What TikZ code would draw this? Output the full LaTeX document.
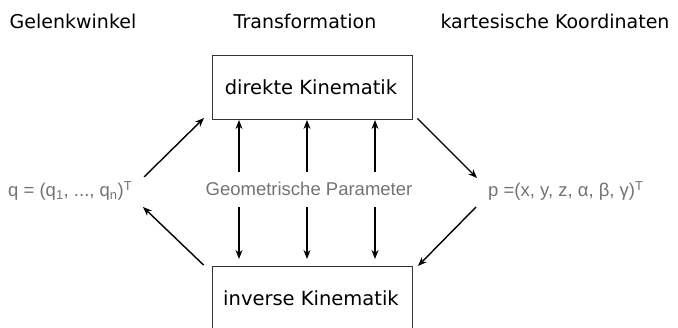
\documentclass[tikz,border=0pt]{standalone}
\usepackage{fontspec}
\setmainfont{DejaVu Sans}
\newfontfamily\grayfont{Liberation Sans}
\usetikzlibrary{arrows.meta}
\definecolor{txtgray}{rgb}{0.45,0.45,0.45}
\begin{document}
\begin{tikzpicture}[x=1pt,y=-1pt,
  box/.style={draw=black!80,line width=0.9pt,minimum width=200pt,minimum height=64pt,inner sep=0pt},
  boxtext/.style={font=\fontsize{19.5}{19.5}\selectfont,inner sep=0pt},
  arr/.style={line width=1.4pt,-{Stealth[length=9pt,width=7pt]}},
  head/.style={font=\fontsize{19}{19}\selectfont,inner sep=0pt},
  gtext/.style={font=\grayfont\fontsize{18.5}{18.5}\selectfont,text=txtgray,inner sep=0pt}]
\useasboundingbox (0,0) rectangle (678,328);
\clip (0,0) rectangle (678,328);
\node[head] (h1) at (73,21) {Gelenkwinkel};
\node[head] (h2) at (305,21) {Transformation};
\node[head] (h3) at (555,21) {kartesische Koordinaten};
\node[box] (dk) at (312,87) {};
\node[boxtext] (dkt) at (311,87) {direkte Kinematik};
\node[box,minimum height=68pt,anchor=north] (ik) at (312,266) {};
\node[boxtext] (ikt) at (311,298) {inverse Kinematik};
\node[gtext] (gp) at (309,189) {Geometrische Parameter};
\node[gtext,anchor=west] (q) at (8,191) {q = (q\textsubscript{1}, ..., q\textsubscript{n})\textsuperscript{T}};
\node[gtext,anchor=west] (p) at (488,191) {p =(x, y, z, α, β, γ)\textsuperscript{T}};
\coordinate (qa) at (144,177);
\coordinate (qb) at (143,207);
\coordinate (pa) at (477,178);
\coordinate (pb) at (476,207);
\draw[arr] (qa) -- (204,118);
\draw[arr] (ik.north west) ++(-8,-1) coordinate (ikl) (ikl) -- (qb);
\draw[arr] (dk.south east) ++(5,-1) coordinate (dkr) (dkr) -- (pa);
\draw[arr] (pb) -- (418,266);
\foreach \x/\n in {239/a,307/b,375/c}{
  \coordinate (u\n) at (\x,172);
  \coordinate (d\n) at (\x,207);
  \draw[arr] (u\n) -- (\x,120);
  \draw[arr] (d\n) -- (\x,259);
}
\end{tikzpicture}
\end{document}
